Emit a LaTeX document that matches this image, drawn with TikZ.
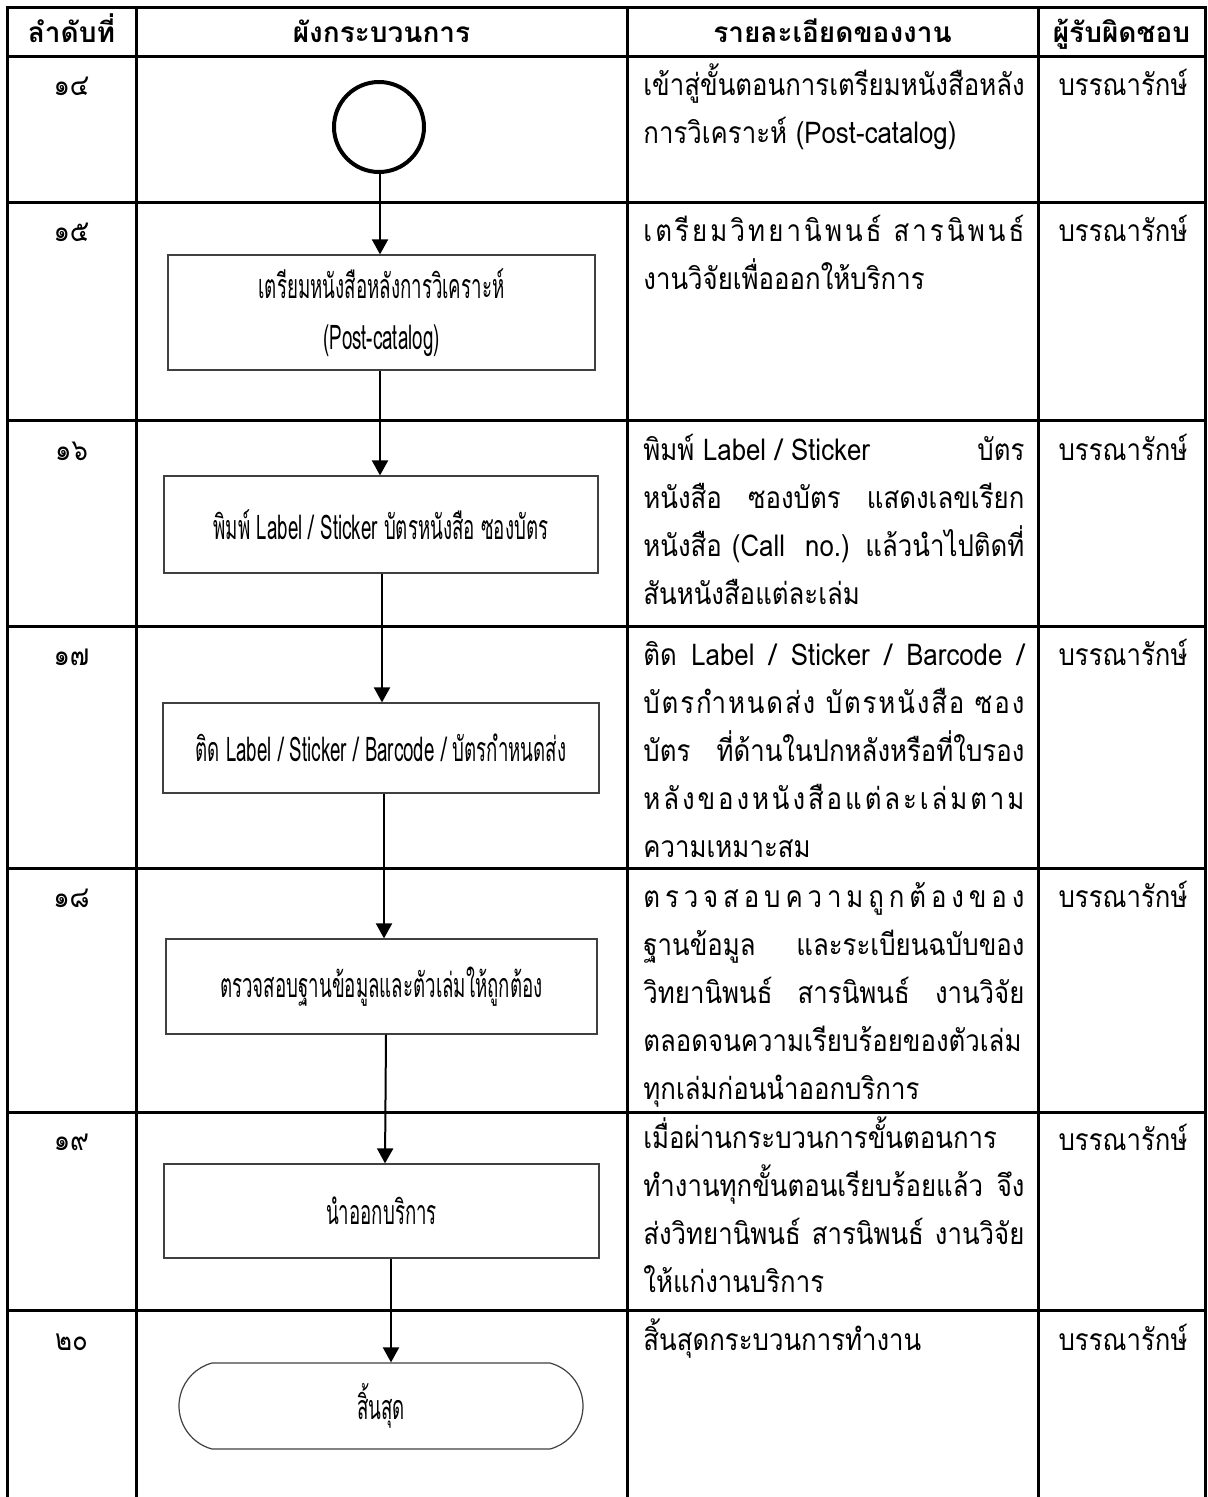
\documentclass[tikz,border=0pt]{standalone}
\usepackage{fontspec}
\usetikzlibrary{arrows.meta,shapes.misc}
\setmainfont[Script=Thai,FakeStretch=0.86]{Loma}
\newfontfamily\bxfont[Script=Thai,FakeStretch=0.55]{Loma}
\newfontfamily\hdfont[Script=Thai]{Loma}
\newlength\dw \setlength\dw{190.5pt}
\newcommand\jl[1]{\hbox to \dw{#1}}
\newcommand\nl[1]{\hbox{#1}}
\newcommand\para[1]{\vtop{\baselineskip=24pt\lineskiplimit=-\maxdimen\lineskip=0pt #1}}
\begin{document}
\begin{tikzpicture}[x=0.5pt,y=-0.5pt,
  grid/.style={line width=1.5pt},
  proc/.style={draw=black!75,line width=0.6pt,rectangle,inner sep=0pt,font=\bxfont\fontsize{17}{25.5}\selectfont,align=center},
  term/.style={draw=black!75,line width=0.6pt,rounded rectangle,rounded rectangle arc length=150,inner sep=0pt,font=\bxfont\fontsize{17}{25.5}\selectfont},
  arr/.style={line width=1pt,-{Triangle[width=8pt,length=7.5pt]}},
  desc/.style={anchor=base west,inner sep=0pt,font=\fontsize{15}{24}\selectfont},
  num/.style={anchor=base,inner sep=0pt,font=\fontsize{15}{24}\selectfont},
  head/.style={anchor=base,inner sep=0pt,font=\hdfont\bfseries\fontsize{14}{18}\selectfont}]
\useasboundingbox (0,0) rectangle (1208,1497);
\fill[white] (0,0) rectangle (1208,1497);
% table grid
\draw[grid] (5.5,8) -- (1206.5,8);
\foreach \y in {57,203,421,626,868,1112,1310} \draw[grid] (7,\y) -- (1205,\y);
\foreach \x in {7,136,627,1038,1205} \draw[grid] (\x,6.5) -- (\x,1497);
% headers
\node[head] (h1) at (71.5,43) {ลำดับที่};
\node[head] (h2) at (381.5,43) {ผังกระบวนการ};
\node[head] (h3) at (832.5,43) {รายละเอียดของงาน};
\node[head] (h4) at (1121.5,43) {ผู้รับผิดชอบ};
% numbers
\node[num] (n14) at (71.5,96) {๑๔};
\node[num] (n15) at (71.5,242) {๑๕};
\node[num] (n16) at (71.5,460) {๑๖};
\node[num] (n17) at (71.5,665) {๑๗};
\node[num] (n18) at (71.5,907) {๑๘};
\node[num] (n19) at (71.5,1150) {๑๙};
\node[num] (n20) at (71.5,1350) {๒๐};
% responsible
\foreach \y/\n in {96/14,242/15,460/16,665/17,907/18,1150/19,1350/20}
  \node[num] (r\n) at (1123,\y) {บรรณารักษ์};
% descriptions
\node[desc] (d14) at (643,96) {\para{\nl{เข้าสู่ขั้นตอนการเตรียมหนังสือหลัง}\nl{การวิเคราะห์ (Post-catalog)}}};
\node[desc] (d15) at (643,242) {\para{%
\jl{เ\hfill ต\hfill รี\hfill ย\hfill ม\hfill วิ\hfill ท\hfill ย\hfill า\hfill นิ\hfill พ\hfill น\hfill ธ์ \hfill ส\hfill า\hfill ร\hfill นิ\hfill พ\hfill น\hfill ธ์}%
\nl{งานวิจัยเพื่อออกให้บริการ}}};
\node[desc] (d16) at (643,460) {\para{%
\jl{พิมพ์ Label / Sticker\hfill บัตร}%
\jl{หนังสือ ซองบัตร แสดงเลขเรียก}%
\jl{หนังสือ (Call~~no.) แล้วนำไปติดที่}%
\nl{สันหนังสือแต่ละเล่ม}}};
\node[desc] (d17) at (643,665) {\para{%
\jl{ติด Label / Sticker / Barcode /}%
\jl{บั\hfill ต\hfill ร\hfill กำ\hfill ห\hfill น\hfill ด\hfill ส่\hfill ง \hfill บั\hfill ต\hfill ร\hfill ห\hfill นั\hfill ง\hfill สื\hfill อ \hfill ซ\hfill อ\hfill ง}%
\jl{บัตร ที่ด้านในปกหลังหรือที่ใบรอง}%
\jl{ห\hfill ลั\hfill ง\hfill ข\hfill อ\hfill ง\hfill ห\hfill นั\hfill ง\hfill สื\hfill อ\hfill แ\hfill ต่\hfill ล\hfill ะ\hfill เ\hfill ล่\hfill ม\hfill ต\hfill า\hfill ม}%
\nl{ความเหมาะสม}}};
\node[desc] (d18) at (643,907) {\para{%
\jl{ต\hfill ร\hfill ว\hfill จ\hfill ส\hfill อ\hfill บ\hfill ค\hfill ว\hfill า\hfill ม\hfill ถู\hfill ก\hfill ต้\hfill อ\hfill ง\hfill ข\hfill อ\hfill ง}%
\jl{ฐานข้อมูล และระเบียนฉบับของ}%
\jl{วิทยานิพนธ์ สารนิพนธ์ งานวิจัย}%
\nl{ตลอดจนความเรียบร้อยของตัวเล่ม}%
\nl{ทุกเล่มก่อนนำออกบริการ}}};
\node[desc] (d19) at (643,1148) {\para{%
\nl{เมื่อผ่านกระบวนการขั้นตอนการ}%
\jl{ทำงานทุกขั้นตอนเรียบร้อยแล้ว จึง}%
\jl{ส่งวิทยานิพนธ์ สารนิพนธ์ งานวิจัย}%
\nl{ให้แก่งานบริการ}}};
\node[desc] (d20) at (643,1350) {\para{\nl{สิ้นสุดกระบวนการทำงาน}}};
% flowchart
\node[draw,circle,line width=2pt,minimum size=45pt,inner sep=0pt] (s) at (379,127) {};
\node[proc,minimum width=213.5pt,minimum height=57.5pt] (b1) at (381.5,312.5) {เตรียมหนังสือหลังการวิเคราะห์\\(Post-catalog)};
\node[proc,minimum width=217pt,minimum height=48.5pt] (b2) at (381,524.5) {พิมพ์ Label / Sticker บัตรหนังสือ ซองบัตร};
\node[proc,minimum width=218pt,minimum height=45pt] (b3) at (381,748) {ติด Label / Sticker / Barcode / บัตรกำหนดส่ง};
\node[proc,minimum width=215.5pt,minimum height=47.5pt] (b4) at (381.5,986.5) {ตรวจสอบฐานข้อมูลและตัวเล่มให้ถูกต้อง};
\node[proc,minimum width=217.5pt,minimum height=47pt] (b5) at (381.5,1211) {นำออกบริการ};
\node[term,minimum width=202pt,minimum height=43pt] (e) at (381,1406) {สิ้นสุด};
\draw[arr] ([xshift=0.5pt]s.south) -- ([xshift=-0.75pt]b1.north);
\draw[arr] ([xshift=-0.75pt]b1.south) -- ([xshift=-0.5pt]b2.north);
\draw[arr] ([xshift=0.5pt]b2.south) -- ([xshift=0.5pt]b3.north);
\draw[arr] ([xshift=1.5pt]b3.south) -- ([xshift=1.25pt]b4.north);
\draw[arr] ([xshift=2.25pt]b4.south) -- ([xshift=1.75pt]b5.north);
\draw[arr] ([xshift=4.75pt]b5.south) -- ([xshift=5pt]e.north);
\end{tikzpicture}
\end{document}
